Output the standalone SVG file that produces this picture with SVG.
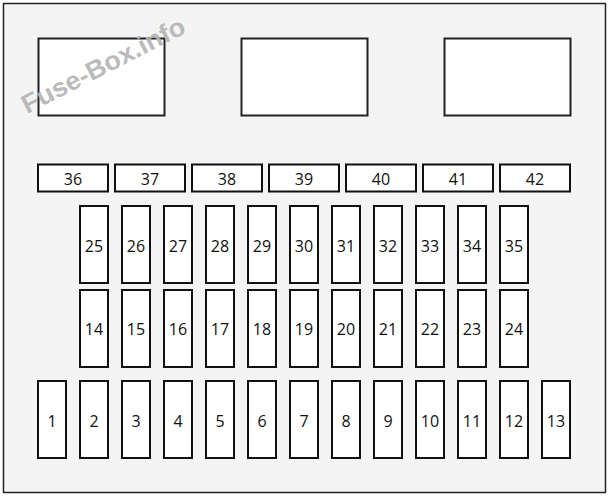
<svg xmlns="http://www.w3.org/2000/svg" width="611" height="498" viewBox="0 0 611 498">
<style>
.frame{fill:#f4f4f4;stroke:#222;stroke-width:1.5}
.blk{fill:#fff;stroke:#222;stroke-width:2}
.f rect{fill:#fff;stroke:#111;stroke-width:2}
.f text{font-family:"Open Sans","Liberation Sans",sans-serif;font-size:16px;fill:#111;text-anchor:middle}
.wm{font-family:"Liberation Sans",sans-serif;font-weight:bold;font-size:26px;fill:#b4b4b4;opacity:0.9}
</style>
<rect class="frame" x="3.5" y="3.5" width="602" height="489"/>
<g id="relay1"><rect class="blk" x="38.5" y="38.5" width="126" height="77"/></g>
<g id="relay2"><rect class="blk" x="241.5" y="38.5" width="126" height="77"/></g>
<g id="relay3"><rect class="blk" x="444.5" y="38.5" width="126" height="77"/></g>
<g class="f">
<g id="f36"><rect x="38" y="164.5" width="70" height="27"/><text x="73" y="184.5">36</text></g>
<g id="f37"><rect x="115" y="164.5" width="70" height="27"/><text x="150" y="184.5">37</text></g>
<g id="f38"><rect x="192" y="164.5" width="70" height="27"/><text x="227" y="184.5">38</text></g>
<g id="f39"><rect x="269" y="164.5" width="70" height="27"/><text x="304" y="184.5">39</text></g>
<g id="f40"><rect x="346" y="164.5" width="70" height="27"/><text x="381" y="184.5">40</text></g>
<g id="f41"><rect x="423" y="164.5" width="70" height="27"/><text x="458" y="184.5">41</text></g>
<g id="f42"><rect x="500" y="164.5" width="70" height="27"/><text x="535" y="184.5">42</text></g>

<g id="f25"><rect x="80" y="206" width="28" height="77"/><text x="94" y="251.5">25</text></g>
<g id="f26"><rect x="122" y="206" width="28" height="77"/><text x="136" y="251.5">26</text></g>
<g id="f27"><rect x="164" y="206" width="28" height="77"/><text x="178" y="251.5">27</text></g>
<g id="f28"><rect x="206" y="206" width="28" height="77"/><text x="220" y="251.5">28</text></g>
<g id="f29"><rect x="248" y="206" width="28" height="77"/><text x="262" y="251.5">29</text></g>
<g id="f30"><rect x="290" y="206" width="28" height="77"/><text x="304" y="251.5">30</text></g>
<g id="f31"><rect x="332" y="206" width="28" height="77"/><text x="346" y="251.5">31</text></g>
<g id="f32"><rect x="374" y="206" width="28" height="77"/><text x="388" y="251.5">32</text></g>
<g id="f33"><rect x="416" y="206" width="28" height="77"/><text x="430" y="251.5">33</text></g>
<g id="f34"><rect x="458" y="206" width="28" height="77"/><text x="472" y="251.5">34</text></g>
<g id="f35"><rect x="500" y="206" width="28" height="77"/><text x="514" y="251.5">35</text></g>

<g id="f14"><rect x="80" y="290" width="28" height="77"/><text x="94" y="334.5">14</text></g>
<g id="f15"><rect x="122" y="290" width="28" height="77"/><text x="136" y="334.5">15</text></g>
<g id="f16"><rect x="164" y="290" width="28" height="77"/><text x="178" y="334.5">16</text></g>
<g id="f17"><rect x="206" y="290" width="28" height="77"/><text x="220" y="334.5">17</text></g>
<g id="f18"><rect x="248" y="290" width="28" height="77"/><text x="262" y="334.5">18</text></g>
<g id="f19"><rect x="290" y="290" width="28" height="77"/><text x="304" y="334.5">19</text></g>
<g id="f20"><rect x="332" y="290" width="28" height="77"/><text x="346" y="334.5">20</text></g>
<g id="f21"><rect x="374" y="290" width="28" height="77"/><text x="388" y="334.5">21</text></g>
<g id="f22"><rect x="416" y="290" width="28" height="77"/><text x="430" y="334.5">22</text></g>
<g id="f23"><rect x="458" y="290" width="28" height="77"/><text x="472" y="334.5">23</text></g>
<g id="f24"><rect x="500" y="290" width="28" height="77"/><text x="514" y="334.5">24</text></g>

<g id="f1"><rect x="38" y="381" width="28" height="77"/><text x="52" y="426.5">1</text></g>
<g id="f2"><rect x="80" y="381" width="28" height="77"/><text x="94" y="426.5">2</text></g>
<g id="f3"><rect x="122" y="381" width="28" height="77"/><text x="136" y="426.5">3</text></g>
<g id="f4"><rect x="164" y="381" width="28" height="77"/><text x="178" y="426.5">4</text></g>
<g id="f5"><rect x="206" y="381" width="28" height="77"/><text x="220" y="426.5">5</text></g>
<g id="f6"><rect x="248" y="381" width="28" height="77"/><text x="262" y="426.5">6</text></g>
<g id="f7"><rect x="290" y="381" width="28" height="77"/><text x="304" y="426.5">7</text></g>
<g id="f8"><rect x="332" y="381" width="28" height="77"/><text x="346" y="426.5">8</text></g>
<g id="f9"><rect x="374" y="381" width="28" height="77"/><text x="388" y="426.5">9</text></g>
<g id="f10"><rect x="416" y="381" width="28" height="77"/><text x="430" y="426.5">10</text></g>
<g id="f11"><rect x="458" y="381" width="28" height="77"/><text x="472" y="426.5">11</text></g>
<g id="f12"><rect x="500" y="381" width="28" height="77"/><text x="514" y="426.5">12</text></g>
<g id="f13"><rect x="542" y="381" width="28" height="77"/><text x="556" y="426.5">13</text></g>
</g>
<g id="connectors"/>
<text class="wm" transform="translate(27,114) rotate(-27)" textLength="180" lengthAdjust="spacingAndGlyphs">Fuse-Box.info</text>
</svg>
